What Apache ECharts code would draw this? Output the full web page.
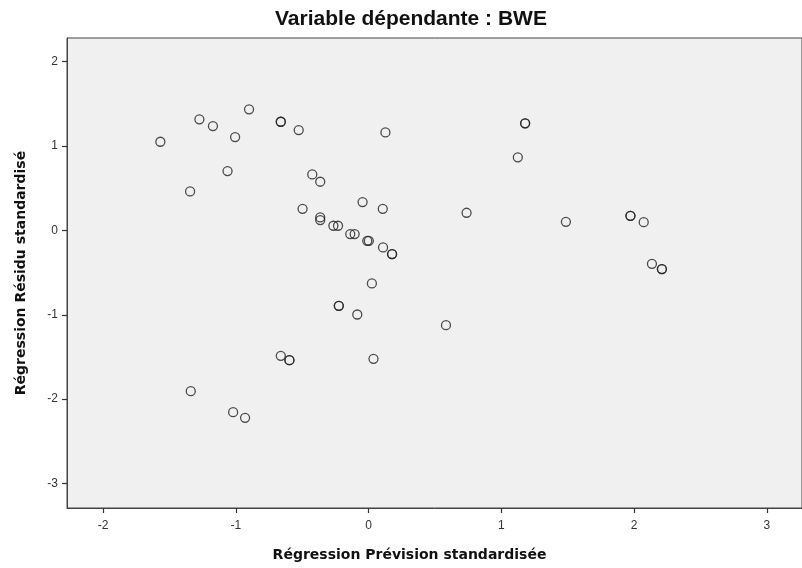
<!DOCTYPE html>
<html>
<head>
<meta charset="utf-8">
<script src="https://cdn.jsdelivr.net/npm/echarts@6/dist/echarts.min.js"></script>
<style>
  html, body { margin: 0; padding: 0; background: #fff; }
  #chart { width: 802px; height: 568px; }
</style>
</head>
<body>
<div id="chart"></div>
<script>
// standardised predicted value (x) and standardised residual (y)
const predicted = [
  -1.568, -1.274, -1.172, -0.900, -1.005, -0.661, -0.661, -0.526, 0.127,
  -1.344, -1.062, -0.424, -0.364, -0.497, -0.364, -0.364, -0.265, -0.230,
  -0.138, -0.105, -0.010, 0.002, -0.045, 0.107, 0.109, 0.177, 0.177,
  1.179, 1.179, 1.124, 0.738, 1.486, 1.972, 1.972, 2.072, 2.134, 2.209, 2.209,
  0.025, -0.224, -0.224, -0.085, -0.661, -0.596, -0.596, 0.037,
  -1.339, -1.020, -0.930, 0.583
];
const residual = [
  1.051, 1.317, 1.237, 1.435, 1.107, 1.288, 1.288, 1.190, 1.162,
  0.462, 0.703, 0.664, 0.577, 0.256, 0.154, 0.122, 0.055, 0.055,
  -0.044, -0.044, -0.123, -0.123, 0.336, 0.256, -0.202, -0.281, -0.281,
  1.269, 1.269, 0.866, 0.209, 0.102, 0.173, 0.173, 0.098, -0.396, -0.459, -0.459,
  -0.629, -0.894, -0.894, -0.997, -1.487, -1.538, -1.538, -1.523,
  -1.906, -2.155, -2.222, -1.123
];
const xTicks = [-2, -1, 0, 1, 2, 3];
const yTicks = [-3, -2, -1, 0, 1, 2];

const points = predicted.map((v, i) => [v, residual[i]]);

const chart = echarts.init(document.getElementById('chart'));
chart.setOption({
  animation: false,
  title: {
    text: 'Variable dépendante : BWE',
    left: 270,
    top: 4,
    textStyle: {
      fontFamily: 'Liberation Sans, Arial, sans-serif',
      fontWeight: 'bold',
      fontSize: 21,
      color: '#111'
    }
  },
  grid: {
    left: 67,
    top: 38,
    bottom: 60,
    right: -5,
    show: true,
    backgroundColor: '#f0f0f0',
    borderColor: '#444',
    borderWidth: 1
  },
  xAxis: {
    type: 'value',
    min: -2.271,
    max: 3.264,
    name: 'Régression Prévision standardisée',
    nameLocation: 'middle',
    nameGap: 40,
    nameTextStyle: {
      fontFamily: 'DejaVu Sans, sans-serif',
      fontWeight: 'bold',
      fontSize: 14,
      color: '#111',
      padding: [0, 50, 0, 0]
    },
    splitLine: { show: false },
    axisLine: { onZero: false, lineStyle: { color: '#444', width: 1 } },
    axisTick: { show: true, inside: false, customValues: xTicks, length: 5, lineStyle: { color: '#333', width: 1.2 } },
    axisLabel: {
      customValues: xTicks,
      margin: 12,
      fontFamily: 'Liberation Sans, Arial, sans-serif',
      fontSize: 12,
      color: '#333'
    }
  },
  yAxis: {
    type: 'value',
    min: -3.291,
    max: 2.281,
    name: 'Régression Résidu standardisé',
    nameLocation: 'middle',
    nameGap: 39,
    nameTextStyle: {
      fontFamily: 'DejaVu Sans, sans-serif',
      fontWeight: 'bold',
      fontSize: 14,
      color: '#111'
    },
    splitLine: { show: false },
    axisLine: { show: true, onZero: false, lineStyle: { color: '#444', width: 1 } },
    axisTick: { show: true, inside: false, customValues: yTicks, length: 5, lineStyle: { color: '#333', width: 1.2 } },
    axisLabel: {
      customValues: yTicks,
      margin: 9,
      fontFamily: 'Liberation Sans, Arial, sans-serif',
      fontSize: 12,
      color: '#333'
    }
  },
  series: [{
    type: 'scatter',
    data: points,
    symbol: 'circle',
    symbolSize: 9,
    itemStyle: {
      color: 'rgba(0,0,0,0)',
      borderColor: '#222',
      borderWidth: 1.3
    }
  }]
});
</script>
</body>
</html>
